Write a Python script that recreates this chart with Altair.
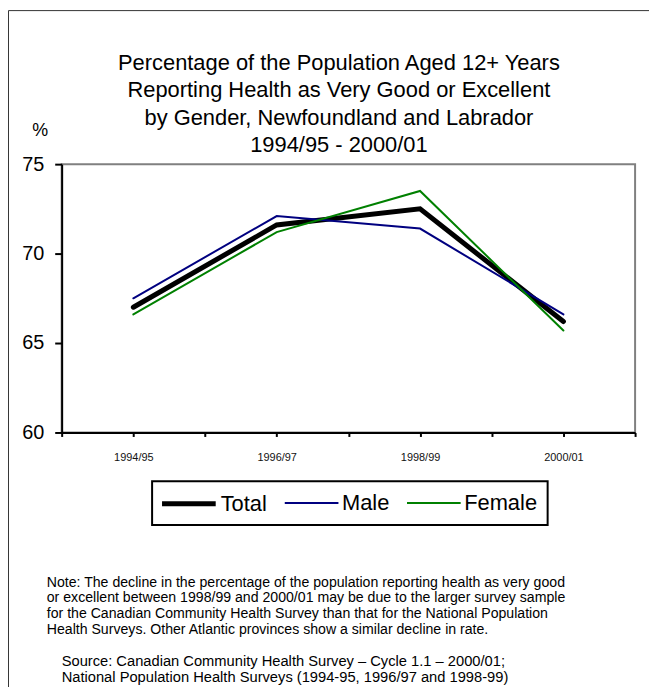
import altair as alt
import pandas as pd

# ---- data ----
years = ["1994/95", "1996/97", "1998/99", "2000/01"]
series_names = ["Total", "Male", "Female"]
total = [67.0, 71.6, 72.5, 66.2]
male = [67.5, 72.1, 71.4, 66.6]
female = [66.6, 71.2, 73.5, 65.7]
series_colors = ["#000000", "#000080", "#008000"]
series_widths = [5, 2, 2]

title_lines = [
    "Percentage of the Population Aged 12+ Years",
    "Reporting Health as Very Good or Excellent",
    "by Gender, Newfoundland and Labrador",
    "1994/95 - 2000/01",
]
note_lines = [
    "Note: The decline in the percentage of the population reporting health as very good",
    "or excellent between 1998/99 and 2000/01 may be due to the larger survey sample",
    "for the Canadian Community Health Survey than that for the National Population",
    "Health Surveys. Other Atlantic provinces show a similar decline in rate.",
]
source_lines = [
    "Source:  Canadian Community Health Survey \u2013 Cycle 1.1 \u2013 2000/01;",
    "National Population Health Surveys (1994-95, 1996/97 and 1998-99)",
]

rows = []
for name, vals in zip(series_names, [total, male, female]):
    for i, (yr, v) in enumerate(zip(years, vals)):
        rows.append({"idx": i, "year": yr, "series": name, "value": v})
df = pd.DataFrame(rows)

FONT = "Liberation Sans, Arial, sans-serif"

label_expr = " : ".join(
    [f"datum.value == {i} ? '{y}'" for i, y in enumerate(years)] + ["''"]
)

W, H = 577, 270

legend_kw = dict(
    title=None,
    orient="none",
    legendX=91,
    legendY=319,
    direction="horizontal",
    symbolType="M-1.25,0H4.15",
    symbolSize=400,
    labelFontSize=22,
    labelFont=FONT,
    labelColor="black",
    labelOffset=34,
    columnPadding=13,
    padding=10,
    strokeColor="black",
    labelLimit=0,
)

lines = alt.Chart(df).mark_line(strokeCap="round", strokeJoin="miter").encode(
    x=alt.X(
        "idx:Q",
        scale=alt.Scale(domain=[-0.5, len(years) - 0.5], nice=False, zero=False),
        axis=alt.Axis(
            title=None,
            values=[i * 0.5 - 0.5 for i in range(2 * len(years) + 1)],
            labelExpr=label_expr,
            grid=False,
            domainColor="black",
            domainWidth=2,
            tickColor="black",
            tickWidth=2,
            tickSize=4,
            labelPadding=15,
            labelFontSize=11,
            labelColor="#111111",
            labelFont=FONT,
            labelFlush=False,
            labelOverlap=False,
        ),
    ),
    y=alt.Y(
        "value:Q",
        scale=alt.Scale(domain=[60, 75], nice=False, zero=False),
        axis=alt.Axis(
            title="%",
            titleAngle=0,
            titleX=-22,
            titleY=-25,
            titleAlign="center",
            titleBaseline="bottom",
            titleFontSize=18,
            titleFontWeight="normal",
            titleFont=FONT,
            titleColor="black",
            values=[60, 65, 70, 75],
            grid=False,
            domainColor="black",
            domainWidth=2,
            tickColor="black",
            tickWidth=2,
            tickSize=7,
            labelPadding=11,
            labelFontSize=20,
            labelFont=FONT,
            labelColor="black",
        ),
    ),
    color=alt.Color(
        "series:N",
        scale=alt.Scale(domain=series_names, range=series_colors),
        legend=alt.Legend(**legend_kw),
    ),
    strokeWidth=alt.StrokeWidth(
        "series:N",
        scale=alt.Scale(type="ordinal", domain=series_names, range=series_widths),
        legend=alt.Legend(**legend_kw),
    ),
    detail="series:N",
)

title = alt.Chart(pd.DataFrame({"t": [title_lines]})).mark_text(
    align="center", baseline="alphabetic", fontSize=22, font=FONT,
    lineHeight=27.7, color="black"
).encode(text="t:N", x=alt.value(279), y=alt.value(-95))

note = alt.Chart(pd.DataFrame({"t": [note_lines]})).mark_text(
    align="left", baseline="top", fontSize=14.2, font=FONT, lineHeight=16, color="black"
).encode(text="t:N", x=alt.value(-15), y=alt.value(414))

source = alt.Chart(pd.DataFrame({"t": [source_lines]})).mark_text(
    align="left", baseline="top", fontSize=14.8, font=FONT, lineHeight=16, color="black"
).encode(text="t:N", x=alt.value(0), y=alt.value(493))

frame = alt.Chart(pd.DataFrame({"a": [0]})).mark_rect(
    fillOpacity=0, stroke="#333333", strokeWidth=1
).encode(
    x=alt.value(-53.5), x2=alt.value(800), y=alt.value(-154.5), y2=alt.value(800)
)

chart = alt.layer(frame, title, lines, note, source).properties(
    width=W,
    height=H,
    autosize=alt.AutoSizeParams(type="none"),
    padding={"left": 54, "top": 155, "right": 14, "bottom": 254},
).configure_view(stroke="#808080", strokeWidth=2).configure_legend(strokeWidth=2)

chart.save("out.html", embed_options={"renderer": "svg", "actions": False})
